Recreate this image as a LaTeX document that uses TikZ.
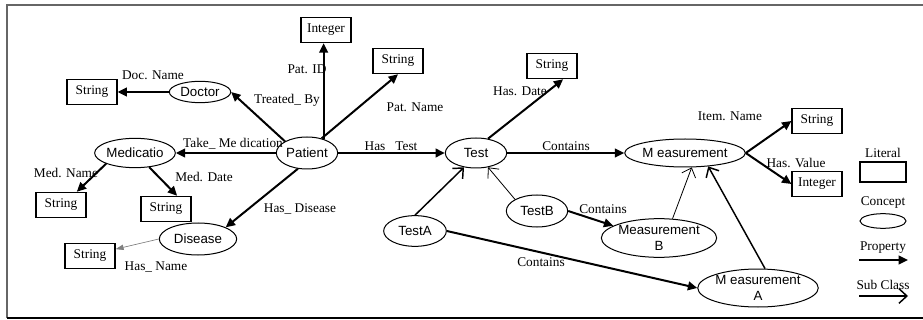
\documentclass[tikz,border=0pt]{standalone}
\usepackage{fontspec}
\setmainfont{Liberation Serif}
\setsansfont{Liberation Sans}
\usetikzlibrary{shapes,arrows.meta}

\begin{document}
\begin{tikzpicture}[x=0.75pt,y=-0.75pt]
	\tikzstyle{literal} = [draw, line width=0.9pt, rectangle, minimum width=37.5pt, minimum height=19pt, inner sep=0]
	\tikzstyle{concept} = [draw, line width=0.75pt, ellipse, inner sep=0, font=\sffamily, align=center]
	\tikzstyle{prop} = [line width=1.5pt, -{Triangle[length=7pt,width=6.5pt]}]
	\tikzstyle{sub} = [line width=1.1pt, -{Straight Barb[length=6pt,width=11pt]}]
	\tikzstyle{lbl} = [inner sep=0]

	\useasboundingbox (0,0) rectangle (923,320);
	\draw[gray!80!black, line width=1.3pt] (7,318) -- (7,5) -- (925,5);
	\draw[line width=1.3pt] (7,318) -- (925,318);

%	concepts
	\node[concept, minimum width=46pt, minimum height=16pt] (doc) at (200,92) {Doctor};
	\node[concept, minimum width=57pt, minimum height=22pt] (med) at (135,153) {Medicatio};
	\node[concept, minimum width=46pt, minimum height=24pt] (pat) at (307,153) {Patient};
	\node[concept, minimum width=58pt, minimum height=24pt] (dis) at (198,239) {Disease};
	\node[concept, minimum width=46pt, minimum height=22.5pt] (test) at (476,153) {Test};
	\node[concept, minimum width=47pt, minimum height=23pt] (ta) at (415,231) {TestA};
	\node[concept, minimum width=46pt, minimum height=24pt] (tb) at (537,211) {TestB};
	\node[concept, minimum width=80pt, minimum height=21pt] (meas) at (685,153) {M easurement};
	\node[concept, minimum width=81pt, minimum height=29pt] (mb) at (659,238) {Measurement\\B};
	\node[concept, minimum width=78pt, minimum height=28.5pt] (ma) at (758,288) {M easurement\\A};

%	literals
	\node[literal] (pid) at (326,30) {Integer};
	\node[literal] (pname) at (398,61) {String};
	\node[literal] (dname) at (92,92) {String};
	\node[literal] (mname) at (61,205) {String};
	\node[literal] (mdate) at (166,209) {String};
	\node[literal] (hname) at (90,256) {String};
	\node[literal] (tdate) at (552,66) {String};
	\node[literal] (iname) at (817,121) {String};
	\node[literal] (hval) at (817,184) {Integer};

%	properties
	\draw[prop] (pat.40) -- (pat.40 |- pid.south);
	\draw[prop] (pat.45) -- (pname.south);
	\draw[prop] (pat.north west) -- (doc.east);
	\draw[prop] (doc) -- (dname);
	\draw[prop] (pat) -- (med);
	\draw[prop] (med.south west) -- (mname.40);
	\draw[prop] (med.-45) -- (mdate.50);
	\draw[prop] (pat.240) -- (dis.north east);
	\draw[gray, line width=0.5pt, -{Triangle[length=6pt,width=4pt]}] (dis.west) -- (hname.15);
	\draw[prop] (pat) -- (test);
	\draw[prop] (test.50) -- (tdate.-50);
	\draw[prop] (test) -- (meas);
	\draw[prop] (meas.east) -- (iname.west);
	\draw[prop] (meas.east) -- (hval.west);
	\draw[prop] (tb.east) -- (mb.165);
	\draw[prop] (ta.east) -- (ma.west);

%	sub classes
	\draw[sub] (ta.north) -- (test.230);
	\draw[sub, line width=0.6pt] (tb.north west) -- (test.-50);
	\draw[sub, line width=0.6pt] (mb.55) -- (meas.-65);
	\draw[sub] (ma.70) -- (meas.-30);

%	property names
	\node[lbl] (l1) at (153,75) {Doc. Name};
	\node[lbl] (l2) at (287,100) {Treated\_ By};
	\node[lbl] (l3) at (307,69) {Pat. ID};
	\node[lbl] (l4) at (415,107) {Pat. Name};
	\node[lbl] (l5) at (520,91) {Has. Date};
	\node[lbl] (l6) at (391,146) {Has\ \ \ Test};
	\node[lbl] (l7) at (566,146) {Contains};
	\node[lbl] (l8) at (233,144) {Take\_ Me dication};
	\node[lbl] (l9) at (66,173) {Med. Name};
	\node[lbl] (l10) at (204,177) {Med. Date};
	\node[lbl] (l11) at (300,209) {Has\_ Disease};
	\node[lbl] (l12) at (156,267) {Has\_ Name};
	\node[lbl] (l13) at (603,209) {Contains};
	\node[lbl] (l14) at (541,262) {Contains};
	\node[lbl] (l15) at (730,116) {Item. Name};
	\node[lbl] (l16) at (796,163) {Has. Value};

%	legend
	\node[lbl] (kl) at (883,153) {Literal};
	\node[draw, line width=0.9pt, minimum width=34.5pt, minimum height=15pt, inner sep=0] (kbox) at (883,172) {};
	\node[lbl] (kc) at (883,203) {Concept};
	\node[draw, line width=0.75pt, ellipse, minimum width=34.5pt, minimum height=11pt, inner sep=0] (kell) at (883,221) {};
	\node[lbl] (kp) at (883,248) {Property};
	\coordinate (kp1) at (859,260);
	\coordinate (kp2) at (908,260);
	\draw[prop] (kp1) -- (kp2);
	\node[lbl] (ks) at (883,285) {Sub Class};
	\coordinate (ks1) at (859,296);
	\coordinate (ks2) at (908,296);
	\draw[sub] (ks1) -- (ks2);
\end{tikzpicture}
\end{document}
